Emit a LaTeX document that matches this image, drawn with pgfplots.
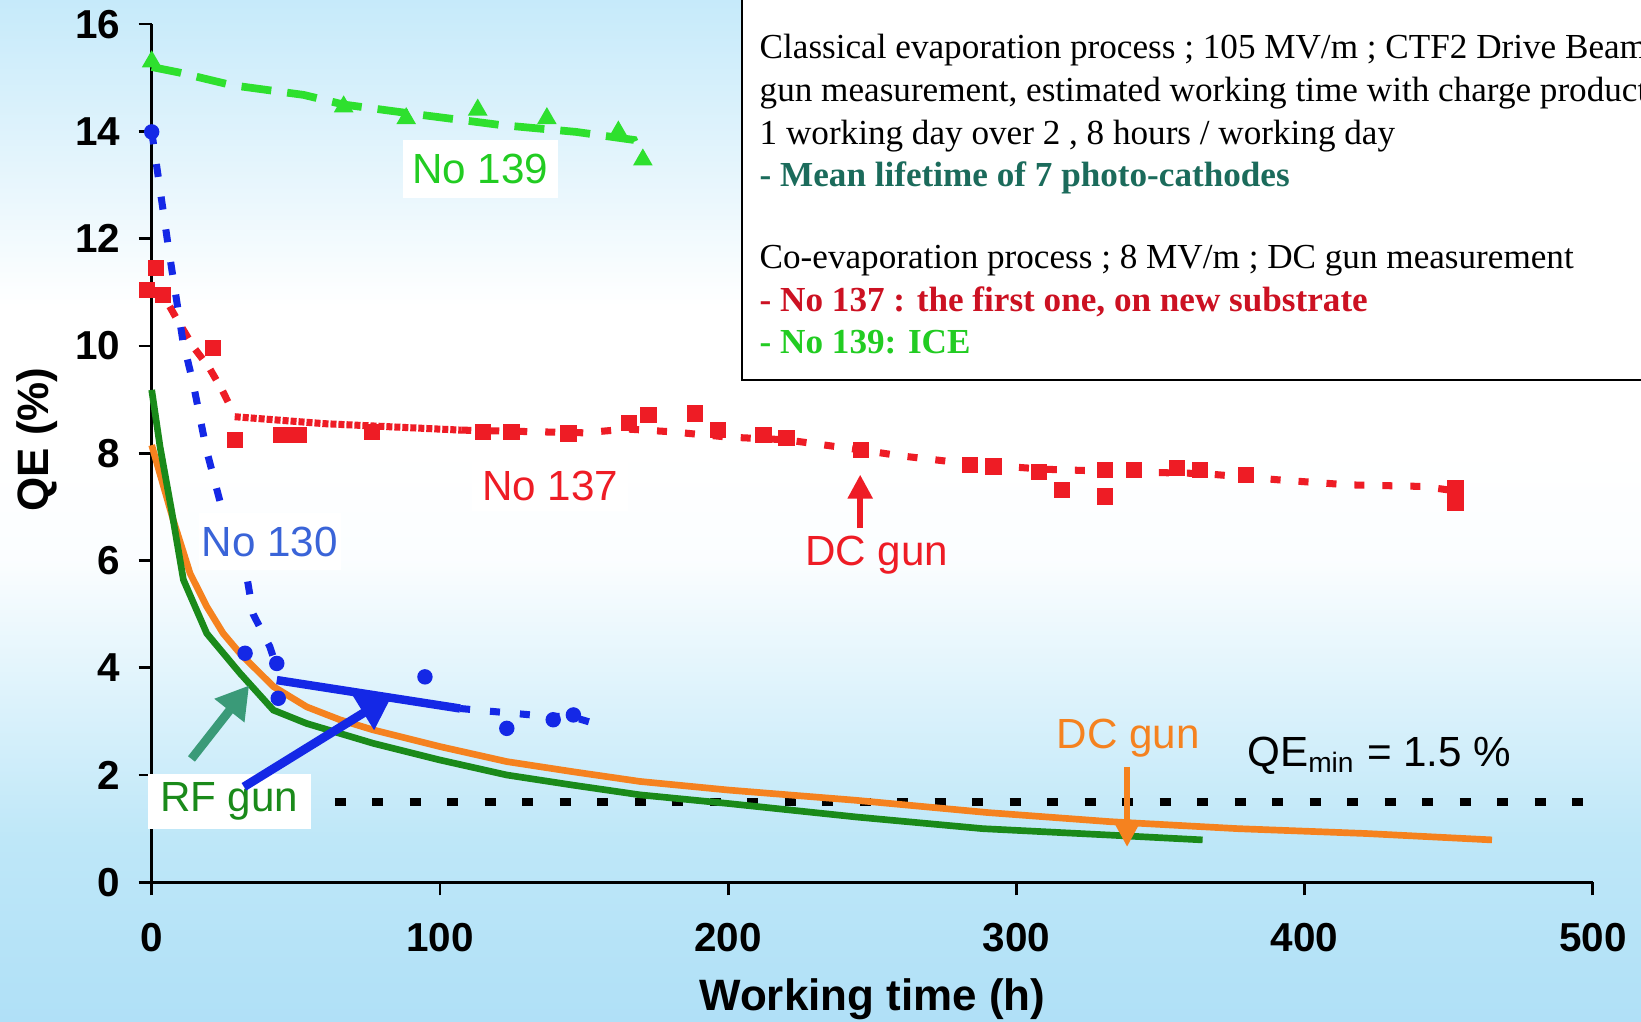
\documentclass[border=0pt]{standalone}
\usepackage{fontspec}
\setmainfont{Liberation Sans}
\newfontfamily\serif{Liberation Serif}
\usepackage{pgfplots}
\pgfplotsset{compat=1.18}
\usetikzlibrary{arrows.meta}
\definecolor{bgbot}{HTML}{B0E0F7}
\definecolor{bglow}{HTML}{BEE7F8}
\definecolor{bghi}{HTML}{E2F4FC}
\definecolor{bgtop}{HTML}{C6EAFA}
\definecolor{cred}{HTML}{EE1C25}
\definecolor{cblue}{HTML}{1428E6}
\definecolor{lblue}{HTML}{3A64D8}
\definecolor{cgreen}{HTML}{2EE02E}
\definecolor{lgreen}{HTML}{22CC22}
\definecolor{dgreen}{HTML}{1A8A1A}
\definecolor{corange}{HTML}{F5821F}
\definecolor{cteal}{HTML}{3A9A78}
\definecolor{tteal}{HTML}{1B6B5B}
\definecolor{tred}{HTML}{CC1122}
\pgfdeclareverticalshading{bgshade}{100bp}{color(0bp)=(bgbot); color(25bp)=(bgbot); color(34bp)=(bglow); color(47.5bp)=(white!93!bglow); color(53bp)=(white); color(60bp)=(white); color(67.5bp)=(bghi); color(75bp)=(bgtop); color(100bp)=(bgtop)}
\begin{document}
\begin{tikzpicture}
\clip (0,0) rectangle (164.1mm,102.2mm);
\shade[shading=bgshade] (0,0) rectangle (164.1mm,102.2mm);
\begin{axis}[
  at={(15.17mm,13.97mm)}, anchor=south west,
  scale only axis, width=144.12mm, height=85.82mm,
  xmin=0, xmax=500, ymin=0, ymax=16,
  axis lines=left, axis line style={-, line width=0.9pt, black},
  xtick={0,100,...,500}, ytick={0,2,...,16},
  tick align=outside, major tick length=1.3mm,
  tick style={black, line width=0.8pt},
  /pgf/number format/assume math mode=true,
  ticklabel style={font=\fontsize{11.5}{13}\selectfont\bfseries},
  xticklabel style={yshift=-1.6mm},
  yticklabel style={xshift=-0.6mm},
  xlabel={Working time (h)},
  xlabel style={font=\fontsize{12.5}{14}\selectfont\bfseries, at={(axis description cs:0.5,0)}, anchor=base, yshift=-12.8mm},
  ylabel={QE (\%)},
  ylabel style={font=\fontsize{12.5}{14}\selectfont\bfseries, at={(axis description cs:-0.0798,0.516)}, anchor=center},
  clip=false,
]
% QE min line
\addplot[black, line width=2.4pt, dash pattern=on 1.1mm off 2.65mm] coordinates {(63.5,1.5) (497.5,1.5)};
% DC gun mean curve (orange)
\addplot[corange, line width=1.9pt] coordinates {
(0,8.15) (7.5,6.75) (13.3,5.76) (19.1,5.14) (24.8,4.64) (30.6,4.27) (42.2,3.65) (53.8,3.27) (65.3,3.03) (76.9,2.84) (100,2.53) (123.2,2.25) (146.3,2.06) (169.4,1.88) (200,1.72) (244,1.53) (290,1.3) (332.5,1.13) (376.8,1.0) (421,0.91) (465,0.79)};
% RF gun mean curve (green)
\addplot[dgreen, line width=1.9pt] coordinates {
(0,9.18) (2.9,8.12) (7,6.9) (11,5.64) (19.1,4.64) (30.6,3.9) (42.2,3.21) (53.8,2.96) (76.9,2.59) (100,2.28) (123.2,2.0) (146.3,1.81) (169.4,1.63) (199.8,1.47) (244,1.22) (288.3,1.0) (332.5,0.88) (364.6,0.79)};
% No 139 (green triangles)
\addplot[cgreen, line width=2.2pt, dash pattern=on 3mm off 1.6mm] coordinates {
(0,15.2) (9.3,15.1) (27.9,14.86) (52.7,14.68) (66.6,14.5) (94.5,14.3) (120.8,14.12) (147.2,13.99) (167.3,13.84) (170.4,13.47)};
\addplot[only marks, mark=triangle*, mark size=1.0mm, cgreen] coordinates {
(0,15.3) (66.6,14.46) (88.3,14.24) (113.1,14.4) (137.1,14.24) (161.9,13.99) (170.4,13.47)};
% No 137 (red squares)
\addplot[cred, line width=2pt, dash pattern=on 1.2mm off 1.3mm] coordinates {
(0,11.0) (4,10.95) (8.3,10.54) (14.5,9.98) (20.1,9.58) (24.4,9.18) (27,8.9)};
\addplot[cred, line width=2pt, dash pattern=on 0.6mm off 0.2mm] coordinates {
(28.8,8.68) (60,8.55) (107.4,8.43)};
\addplot[cred, line width=2pt, dash pattern=on 1.0mm off 1.8mm] coordinates {
(107.4,8.43) (150,8.38) (165,8.45) (180,8.4) (200,8.3) (220,8.25) (246,8.06) (260,7.95) (284,7.8) (310,7.7) (340,7.65) (365,7.62) (391.6,7.5) (415,7.41) (441,7.38) (452,7.3)};
\addplot[only marks, mark=square*, mark size=0.75mm, cred] coordinates {
(-1.6,11.04) (1.5,11.45) (4.0,10.95) (21.3,9.96) (28.8,8.25) (45,8.34) (51,8.34) (76.5,8.4) (114.9,8.4) (124.8,8.4) (144.6,8.37) (165.5,8.56) (172.4,8.71) (188.4,8.74) (196.4,8.43) (212.3,8.34) (220.3,8.28) (246.1,8.06) (284,7.78) (292,7.75) (307.9,7.65) (315.9,7.31) (330.8,7.69) (330.8,7.19) (340.8,7.69) (355.7,7.72) (363.7,7.69) (379.6,7.59) (452.3,7.35) (452.3,7.07)};
% No 130 (blue circles)
\addplot[cblue, line width=2pt, dash pattern=on 1.3mm off 2mm] coordinates {
(0,14.0) (5.9,11.8) (10.8,10.1) (14.4,9.3) (19,8.06) (23.7,7.1) (28,6.2) (33,5.7) (35.2,5.0) (41,4.39) (43.4,4.0)};
\addplot[cblue, line width=2.4pt] coordinates {(43.4,3.77) (107,3.24)};
\addplot[cblue, line width=2pt, dash pattern=on 1.0mm off 2mm] coordinates {
(107,3.24) (125.5,3.15) (138,3.09) (145,3.1) (155.5,2.93)};
\addplot[only marks, mark=*, mark size=0.7mm, cblue] coordinates {
(0,13.99) (32.4,4.27) (43.4,4.08) (43.9,3.43) (94.8,3.83) (123.2,2.87) (139.3,3.03) (146.3,3.12)};
% annotations
\node[fill=white, minimum width=15.5mm, minimum height=5.8mm, inner sep=0, text=lgreen, font=\fontsize{12}{14}\selectfont] at (axis cs:114,13.3) {No 139};
\node[fill=white, inner sep=1mm, text=cred, font=\fontsize{12}{14}\selectfont] at (axis cs:138.2,7.38) {No 137};
\node[fill=white, minimum width=14.2mm, minimum height=5.7mm, inner sep=0, text=lblue, font=\fontsize{12}{14}\selectfont] at (axis cs:41,6.35) {No 130};
\node[fill=white, minimum width=16.3mm, minimum height=5.5mm, inner sep=0, text=dgreen, font=\fontsize{12}{14}\selectfont] at (axis cs:26.9,1.5) {RF gun};
\node[text=cred, font=\fontsize{12}{14}\selectfont] at (axis cs:251.6,6.09) {DC gun};
\node[text=corange, font=\fontsize{12}{14}\selectfont] at (axis cs:338.8,2.69) {DC gun};
\node[text=black, font=\fontsize{12}{14}\selectfont] at (axis cs:425.9,2.36) {QE\textsubscript{min} = 1.5 \%};
\draw[cred, line width=1.6pt, -{Triangle[length=2.4mm, width=2.4mm]}] (axis cs:245.8,6.6) -- (axis cs:245.8,7.6);
\draw[corange, line width=1.6pt, -{Triangle[length=2.4mm, width=2.4mm]}] (axis cs:338.4,2.15) -- (axis cs:338.4,0.66);
\draw[cteal, line width=2.5pt, -{Triangle[length=3.2mm, width=3.6mm]}] (axis cs:13.8,2.3) -- (axis cs:33.8,3.67);
\draw[cblue, line width=2.5pt, -{Triangle[length=3.4mm, width=3.8mm]}] (axis cs:32,1.78) -- (axis cs:83.5,3.49);
\end{axis}
% text box
\draw[fill=white, line width=0.8pt] (74.2mm,64.2mm) rectangle (170mm,105mm);
\begin{scope}[every node/.style={anchor=west, inner sep=0, text height=0.68em, text depth=0.2em, font=\serif\fontsize{10}{12}\selectfont}]
\node at (75.9mm,97.2mm) {Classical evaporation process ; 105 MV/m ; CTF2 Drive Beam RF};
\node at (75.9mm,92.9mm) {gun measurement, estimated working time with charge production};
\node at (75.9mm,88.6mm) {1 working day over 2 , 8 hours / working day};
\node[text=tteal, font=\serif\bfseries\fontsize{10}{12}\selectfont] at (75.9mm,84.4mm) {- Mean lifetime of 7 photo-cathodes};
\node at (75.9mm,76.2mm) {Co-evaporation process ; 8 MV/m ; DC gun measurement};
\node[text=tred, font=\serif\bfseries\fontsize{10}{12}\selectfont] at (75.9mm,71.9mm) {- No 137 : the first one, on new substrate};
\node[text=lgreen, font=\serif\bfseries\fontsize{10}{12}\selectfont] at (75.9mm,67.7mm) {- No 139: ICE};
\end{scope}
\end{tikzpicture}
\end{document}
